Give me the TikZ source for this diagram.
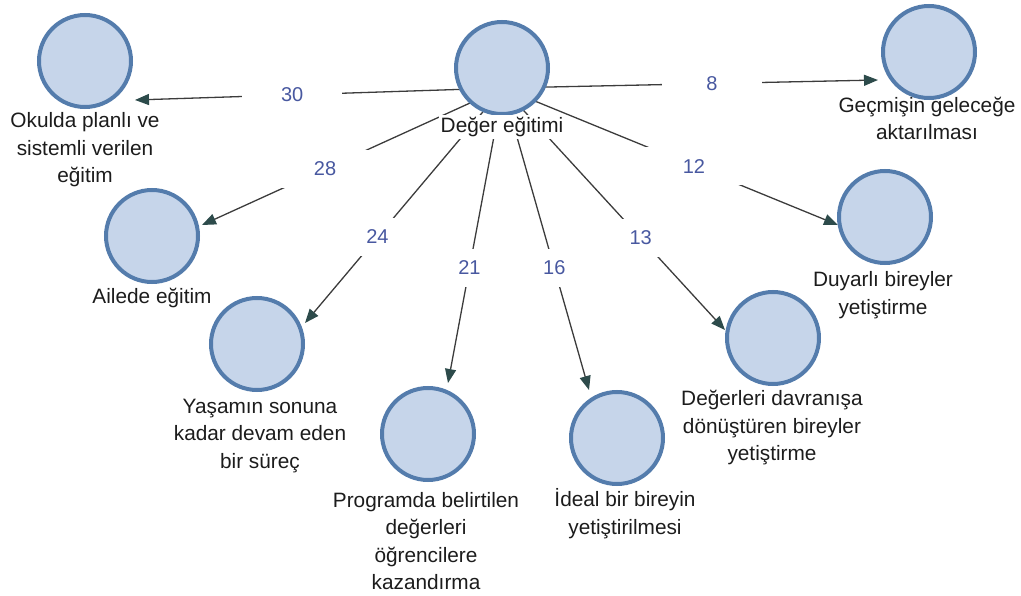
\documentclass[tikz,border=0pt]{standalone}
\usepackage{fontspec}
\setmainfont{Liberation Sans}
\usetikzlibrary{arrows.meta,backgrounds}
\definecolor{ringcol}{RGB}{84,124,172}
\definecolor{ringlight}{RGB}{150,186,228}
\definecolor{fillcol}{RGB}{198,213,234}
\definecolor{numcol}{RGB}{72,88,160}
\definecolor{edgecol}{RGB}{60,60,60}
\definecolor{tipcol}{RGB}{45,75,75}
\definecolor{txtcol}{RGB}{28,28,28}
\begin{document}
\begin{tikzpicture}[x=1pt,y=-1pt,
  ball/.style={circle, draw=ringcol, line width=4pt, fill=fillcol, minimum size=92pt, inner sep=0pt,
    append after command={\pgfextra{\draw[ringlight, line width=1.3pt] (\tikzlastnode.center) circle (43.4pt);}}},
  txt/.style={align=center, font=\fontsize{20.8}{27.5}\selectfont, text=txtcol, inner sep=1pt},
  num/.style={fill=white, text=numcol, font=\fontsize{20}{24}\selectfont, minimum width=100pt, minimum height=38pt, inner sep=0pt},
  link/.style={draw=edgecol, line width=1.3pt, -{Triangle[length=14pt,width=11pt,fill=tipcol,color=tipcol]}}
]
\useasboundingbox (0,0) rectangle (1021,596);

% circles
\node[ball] (c0) at (502,68) {};
\node[ball] (c1) at (85,61) {};
\node[ball] (c2) at (929,52) {};
\node[ball] (c3) at (152,236) {};
\node[ball] (c4) at (257,344) {};
\node[ball] (c5) at (428,434) {};
\node[ball] (c6) at (617,438) {};
\node[ball] (c7) at (773,338) {};
\node[ball] (c8) at (885,217) {};

% labels
\node[txt, fill=white, inner sep=2pt] (l0) at (502,127) {Değer eğitimi};
\node[txt] (l1) at (85,150) {Okulda planlı ve\\sistemli verilen\\eğitim};
\node[txt] (l2) at (927,118.5) {Geçmişin geleceğe\\aktarılması};
\node[txt] (l3) at (152,298) {Ailede eğitim};
\node[txt] (l4) at (260,436) {Yaşamın sonuna\\kadar devam eden\\bir süreç};
\node[txt] (l5) at (426,541) {Programda belirtilen\\değerleri\\öğrencilere\\kazandırma};
\node[txt] (l6) at (625,513.5) {İdeal bir bireyin\\yetiştirilmesi};
\node[txt] (l7) at (772,428) {Değerleri davranışa\\dönüştüren bireyler\\yetiştirme};
\node[txt] (l8) at (883,295) {Duyarlı bireyler\\yetiştirme};

% hub and arrow tips
\coordinate (hub) at (503,88);
\coordinate (t1) at (135,100);
\coordinate (t2) at (878,80);
\coordinate (t3) at (202,225);
\coordinate (t4) at (305,323);
\coordinate (t5) at (448,383);
\coordinate (t6) at (589,390);
\coordinate (t7) at (725,330);
\coordinate (t8) at (838,225);

\begin{pgfonlayer}{background}
\draw[link] (hub) -- node[num, pos=0.573] (n1) {30} (t1);
\draw[link] (hub) -- node[num, pos=0.557] (n2) {8} (t2);
\draw[link] (hub) -- node[num, pos=0.591] (n3) {28} (t3);
\draw[link] (hub) -- node[num, pos=0.634] (n4) {24} (t4);
\draw[link] (hub) -- node[num, pos=0.61] (n5) {21} (t5);
\draw[link] (hub) -- node[num, pos=0.596] (n6) {16} (t6);
\draw[link] (hub) -- node[num, pos=0.62] (n7) {13} (t7);
\draw[link] (hub) -- node[num, pos=0.570] (n8) {12} (t8);
\end{pgfonlayer}
\end{tikzpicture}
\end{document}
